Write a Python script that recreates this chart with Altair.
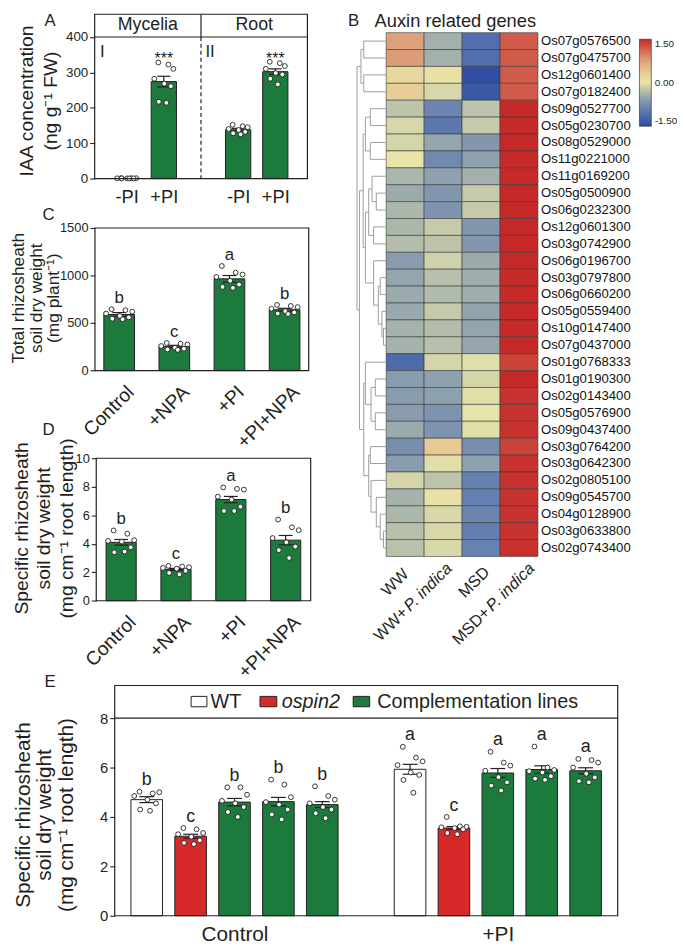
import json
import altair as alt
import pandas as pd

W, H = 677, 940


def P(v):
    return v - 8


FONT = "Arial, 'Liberation Sans', Helvetica, sans-serif"
INK = "#231f20"
GREEN = "#1b7a3c"
RED = "#d7282a"
WHITE = "#ffffff"
DENDRO = "#9d9d9d"

# ---------------- data ----------------
# Panel A : IAA concentration
A_GROUPS = ["Mycelia", "Root"]
A_TREAT = ["-PI", "+PI"]
A_MEAN = [0.8, 274, 138, 302]
A_SE = [0.3, 15, 4, 8]
A_SIG = ["", "***", "", "***"]
A_PTS = [
    [1.5, 1.2, 1.0, 0.8, 0.6, 0.5, 0.3, 0.2],
    [328, 322, 310, 282, 268, 261, 217, 214],
    [152, 148, 145, 140, 137, 132, 128, 125],
    [330, 326, 318, 310, 298, 294, 282, 266],
]

# Panels C and D
CD_TREAT = ["Control", "+NPA", "+PI", "+PI+NPA"]
C_MEAN = [590, 252, 965, 640]
C_SE = [20, 14, 35, 15]
C_LET = ["b", "c", "a", "b"]
C_PTS = [
    [645, 635, 620, 600, 575, 560, 545, 540],
    [290, 282, 275, 258, 240, 230, 222, 218],
    [1100, 1030, 1010, 985, 945, 905, 880, 870],
    [690, 680, 668, 650, 625, 612, 600, 595],
]
D_MEAN = [4.1, 2.2, 7.1, 4.25]
D_SE = [0.2, 0.07, 0.22, 0.33]
D_LET = ["b", "c", "a", "b"]
D_PTS = [
    [4.93, 4.7, 4.25, 4.2, 4.15, 3.75, 3.4, 3.45],
    [2.45, 2.4, 2.35, 2.3, 2.25, 2.1, 1.95, 1.85],
    [7.95, 7.85, 7.8, 7.3, 7.1, 6.6, 6.3, 6.3],
    [5.7, 5.15, 4.95, 4.4, 4.1, 3.8, 3.55, 3.0],
]

# Panel E
E_TREAT = ["Control", "+PI"]
E_GENO = ["WT", "ospin2", "Complementation lines"]
E_LINES = ["WT", "ospin2", "Complementation lines", "Complementation lines", "Complementation lines"]
E_MEAN = [[4.70, 3.22, 4.60, 4.62, 4.50], [5.93, 3.55, 5.78, 5.92, 5.87]]
E_SE = [[0.12, 0.08, 0.15, 0.17, 0.12], [0.20, 0.06, 0.18, 0.15, 0.12]]
E_LET = [["b", "c", "b", "b", "b"], ["a", "c", "a", "a", "a"]]
E_PTS = [
    [
        [5.02, 4.95, 5.0, 4.85, 4.7, 4.55, 4.3, 4.25],
        [3.55, 3.5, 3.35, 3.3, 3.2, 3.05, 2.95, 2.9],
        [5.2, 5.2, 4.9, 4.65, 4.55, 4.4, 4.2, 4.0],
        [5.51, 5.31, 4.8, 4.6, 4.5, 4.3, 4.1, 3.9],
        [5.24, 4.85, 4.7, 4.55, 4.4, 4.3, 4.15, 3.95],
    ],
    [
        [6.84, 6.4, 6.25, 6.1, 5.8, 5.7, 5.5, 4.98],
        [4.0, 3.62, 3.6, 3.58, 3.55, 3.5, 3.35, 3.3],
        [6.64, 6.2, 6.08, 5.87, 5.61, 5.4, 5.27, 5.07],
        [6.85, 6.0, 5.9, 5.85, 5.8, 5.65, 5.55, 5.5],
        [6.35, 6.3, 6.2, 6.0, 5.75, 5.6, 5.45, 5.4],
    ],
]

# Panel B : heatmap (z-scores)
B_TITLE = "Auxin related genes"
B_CONDS = ["WW", "WW+P. indica", "MSD", "MSD+P. indica"]
B_GENES = [
    "Os07g0576500", "Os07g0475700", "Os12g0601400", "Os07g0182400", "Os09g0527700",
    "Os05g0230700", "Os08g0529000", "Os11g0221000", "Os11g0169200", "Os05g0500900",
    "Os06g0232300", "Os12g0601300", "Os03g0742900", "Os06g0196700", "Os03g0797800",
    "Os06g0660200", "Os05g0559400", "Os10g0147400", "Os07g0437000", "Os01g0768333",
    "Os01g0190300", "Os02g0143400", "Os05g0576900", "Os09g0437400", "Os03g0764200",
    "Os03g0642300", "Os02g0805100", "Os09g0545700", "Os04g0128900", "Os03g0633800",
    "Os02g0743400",
]
B_WW = [0.75, 0.8, 0.15, 0.3, -0.25, -0.1, -0.12, 0.0, -0.35, -0.45, -0.35, -0.35, -0.3,
        -0.6, -0.5, -0.45, -0.46, -0.38, -0.38, -1.15, -0.6, -0.6, -0.6, -0.45, -0.75,
        -0.6, -0.12, -0.38, -0.35, -0.28, -0.27]
B_WW_PI = [-0.4, -0.4, 0.05, -0.1, -0.85, -1.0, -0.5, -0.8, -0.55, -0.65, -0.7, -0.2, -0.25,
           -0.15, -0.28, -0.32, -0.2, -0.3, -0.28, -0.12, -0.55, -0.55, -0.7, -0.7, 0.35,
           -0.05, -0.25, 0.05, -0.1, -0.1, -0.1]
B_MSD = [-1.1, -1.1, -1.45, -1.35, -0.25, -0.2, -0.65, -0.55, -0.4, -0.2, -0.2, -0.65, -0.65,
         -0.45, -0.42, -0.42, -0.52, -0.5, -0.5, -0.05, -0.12, -0.05, 0.0, -0.05, -0.75,
         -0.55, -0.9, -0.9, -0.85, -0.92, -0.88]
B_MSD_PI = [1.2, 1.2, 1.2, 1.2, 1.5, 1.5, 1.5, 1.5, 1.5, 1.5, 1.5, 1.5, 1.5, 1.5, 1.5, 1.5,
            1.5, 1.5, 1.5, 1.35, 1.5, 1.45, 1.45, 1.45, 1.35, 1.45, 1.45, 1.45, 1.45, 1.45, 1.45]
HM_TICKS = [-1.5, 0.0, 1.5]
HM_STOPS = [-1.5, -0.9, -0.45, 0.0, 0.4, 0.8, 1.5]
HM_COLORS = ["#2b4ba3", "#6580b0", "#9aaaad", "#e9e4a8", "#e6c590", "#dd9c78", "#c62a28"]
# row clustering (leaf = row number, node = (left, right, merge height))
B_TREE = (
    ((1, 2, 22.7), (3, 4, 22.7), 25.5),
    (
        (((5, 6, 16), (7, 8, 16), 21),
         (((9, (10, 11, 10), 14.3), (12, 13, 12.7), 17.7),
          (14, ((15, 16, 6), (17, (18, 19, 2.7), 4.3), 8), 12.7),
          21),
         23.3),
        ((20, ((21, 22, 11), (23, 24, 11), 15.3), 21),
         ((25, 26, 16), (27, (28, (29, (30, 31, 2.7), 6), 10), 15.3), 17.7),
         22.7),
        27),
    29.5)

# style: horizontal spread pattern for the individual points
JIT = [-0.55, 0.45, 0.95, -0.95, 0.05, 0.7, -0.5, 0.25]

ONE = pd.DataFrame({"k": [0]})


# ---------------- helpers ----------------
def tables(idxs, means, ses, pts, letters, geno=None):
    bars = pd.DataFrame({
        "idx": idxs, "mean": means,
        "lo": [m - s for m, s in zip(means, ses)],
        "hi": [m + s for m, s in zip(means, ses)],
        "top": [max(p) for p in pts], "letter": letters,
    })
    if geno is not None:
        bars["geno"] = geno
    rows = []
    for i, p in zip(idxs, pts):
        for k, v in enumerate(p):
            rows.append({"idx": i, "val": v, "jit": JIT[k % len(JIT)]})
    return bars, pd.DataFrame(rows)


def bar_panel(bars, pts, xdom, xrng, ydom, yrng, xaxis, yaxis, half, cap, jw,
              fill_enc=None, letter_size=17, letter_dy=-6.5):
    xs = alt.Scale(domain=xdom, range=[P(xrng[0]), P(xrng[1])], nice=False, zero=False)
    ys = alt.Scale(domain=ydom, range=[P(yrng[0]), P(yrng[1])], nice=False)

    def X(f):
        return alt.X(f, scale=xs, axis=xaxis)

    def Y(f):
        return alt.Y(f, scale=ys, axis=yaxis)

    base = alt.Chart(bars)
    if fill_enc is None:
        rect = base.mark_rect(fill=GREEN, stroke=INK, strokeWidth=1)
        extra = {}
    else:
        rect = base.mark_rect(stroke=INK, strokeWidth=1)
        extra = {"fill": fill_enc}
    rect = rect.transform_calculate(
        xl=f"datum.idx - {half}", xr=f"datum.idx + {half}"
    ).encode(x=X("xl:Q"), x2="xr:Q", y=Y("mean:Q"), y2=alt.datum(0), **extra)
    err = base.mark_rule(color=INK, strokeWidth=1.2).encode(
        x=X("idx:Q"), y=Y("lo:Q"), y2="hi:Q")
    caps = base.transform_fold(["lo", "hi"], as_=["end", "v"]).transform_calculate(
        cl=f"datum.idx - {cap}", cr=f"datum.idx + {cap}"
    ).mark_rule(color=INK, strokeWidth=1.2).encode(x=X("cl:Q"), x2="cr:Q", y=Y("v:Q"))
    dots = alt.Chart(pts).transform_calculate(
        xj=f"datum.idx + datum.jit * {jw}"
    ).mark_circle(size=24, fill=WHITE, stroke=INK, strokeWidth=0.9, opacity=1).encode(
        x=X("xj:Q"), y=Y("val:Q"))
    lets = base.mark_text(fontSize=letter_size, dy=letter_dy, align="center",
                          baseline="alphabetic", color=INK).encode(
        x=X("idx:Q"), y=Y("top:Q"), text="letter:N")
    return alt.layer(rect, err, caps, dots, lets)


def yaxis(x, values, size):
    return alt.Axis(orient="left", offset=-P(x), values=values, title=None, tickSize=5,
                    labelFontSize=size, labelPadding=2, domain=False, grid=False, format="d",
                    labelFlush=False, labelOverlap=False)


def text(t, x, y, size, align="left", baseline="alphabetic", angle=None, style=None, lh=None):
    kw = dict(text=t, fontSize=size, align=align, baseline=baseline, color=INK)
    if angle is not None:
        kw["angle"] = angle
    if style:
        kw["fontStyle"] = style
    if lh:
        kw["lineHeight"] = lh
    return alt.Chart(ONE).mark_text(**kw).encode(x=alt.value(P(x)), y=alt.value(P(y)))


def ytitle(lines, xc, yc, size, lh):
    # first line sits at the anchor; centre the whole block on xc
    return text(lines, xc - (len(lines) - 1) * lh / 2, yc, size, align="center",
                baseline="middle", angle=270, lh=lh)


def box(x1, y1, x2, y2, fill=WHITE, fo=0.0, w=1.2):
    return alt.Chart(ONE).mark_rect(fill=fill, fillOpacity=fo, stroke=INK, strokeWidth=w).encode(
        x=alt.value(P(x1)), x2=alt.value(P(x2)), y=alt.value(P(y1)), y2=alt.value(P(y2)))


def vline(x, y1, y2, dash=None):
    kw = dict(color=INK, strokeWidth=1.2)
    if dash:
        kw["strokeDash"] = dash
    return alt.Chart(ONE).mark_rule(**kw).encode(
        x=alt.value(P(x)), y=alt.value(P(y1)), y2=alt.value(P(y2)))


def hline(x1, x2, y):
    return alt.Chart(ONE).mark_rule(color=INK, strokeWidth=1.2).encode(
        x=alt.value(P(x1)), x2=alt.value(P(x2)), y=alt.value(P(y)))


layers = []

# ---------------- Panel A ----------------
a_idx = [g * 3 + t for g in range(len(A_GROUPS)) for t in range(len(A_TREAT))]
a_bars, a_pts = tables(a_idx, A_MEAN, A_SE, A_PTS, A_SIG)
a_xaxis = alt.Axis(orient="bottom", offset=P(175) - H, values=a_idx,
                   labelExpr=json.dumps(A_TREAT) + "[datum.value % 3]",
                   title=None, ticks=False, domain=False, labelFontSize=18.5, labelPadding=9,
                   labelAngle=0, labelFlush=False, labelOverlap=False, grid=False)
layers.append(bar_panel(a_bars, a_pts, [0, 4], [128.1, 278.5], [0, 400], [175, 31.7],
                        a_xaxis, yaxis(95.7, [0, 100, 200, 300, 400], 13.5),
                        half=0.34, cap=0.173, jw=0.27, letter_size=16, letter_dy=2))
layers += [
    box(95.7, 8.7, 311, 175), hline(95.7, 311, 31.7), vline(203.3, 8.7, 31.7),
    vline(203.3, 31.7, 175, dash=[4, 3]),
    text(A_GROUPS[0], 149.5, 25, 18, align="center"),
    text(A_GROUPS[1], 257.2, 25, 18, align="center"),
    text("I", 103.5, 52, 17, align="center"),
    text("II", 212.5, 52, 17, align="center"),
    ytitle(["IAA concentration", "(ng g\u207b\u00b9 FW)"], 39.2, 96.5, 19.5, 24),
]

# ---------------- Panel C ----------------
cd_idx = list(range(len(CD_TREAT)))
c_bars, c_pts = tables(cd_idx, C_MEAN, C_SE, C_PTS, C_LET)


def cd_xaxis(y):
    return alt.Axis(orient="bottom", offset=P(y) - H, values=cd_idx,
                    labelExpr=json.dumps(CD_TREAT) + "[datum.value]",
                    title=None, ticks=False, domain=False, labelFontSize=19.5, labelPadding=12,
                    labelOffset=5, labelAngle=315, labelAlign="right", labelBaseline="top",
                    labelFlush=False, labelOverlap=False, grid=False)


layers.append(bar_panel(c_bars, c_pts, [0, 3], [120.5, 287.9], [0, 1500], [369.3, 225],
                        cd_xaxis(369.3), yaxis(96, [0, 500, 1000, 1500], 13),
                        half=0.278, cap=0.125, jw=0.25))
layers += [
    box(96, 225, 312.3, 369.3),
    ytitle(["Total rhizosheath", "soil dry weight", "(mg plant\u207b\u00b9)"], 37, 296, 17.5, 18),
]

# ---------------- Panel D ----------------
d_bars, d_pts = tables(cd_idx, D_MEAN, D_SE, D_PTS, D_LET)
layers.append(bar_panel(d_bars, d_pts, [0, 3], [122.5, 289], [0, 10], [602.2, 458],
                        cd_xaxis(602.2), yaxis(97.3, [0, 2, 4, 6, 8, 10], 13),
                        half=0.275, cap=0.126, jw=0.25))
layers += [
    box(97.3, 458, 314.3, 602.2),
    ytitle(["Specific rhizosheath", "soil dry weight", "(mg cm\u207b\u00b9 root length)"], 45, 529, 19.5, 23),
]

# ---------------- Panel E ----------------
e_idx, e_means, e_ses, e_pts, e_lets, e_geno = [], [], [], [], [], []
for t in range(len(E_TREAT)):
    for j in range(len(E_LINES)):
        e_idx.append(t * 6 + j)
        e_means.append(E_MEAN[t][j])
        e_ses.append(E_SE[t][j])
        e_pts.append(E_PTS[t][j])
        e_lets.append(E_LET[t][j])
        e_geno.append(E_LINES[j])
e_bars, e_ptab = tables(e_idx, e_means, e_ses, e_pts, e_lets, geno=e_geno)
e_xaxis = alt.Axis(orient="bottom", offset=P(921) - H, values=[2, 8],
                   labelExpr=json.dumps(E_TREAT) + "[floor(datum.value / 6)]",
                   title=None, ticks=False, domain=False, labelFontSize=21, labelPadding=8.5,
                   labelAngle=0, labelFlush=False, labelOverlap=False, grid=False)
e_fill = alt.Fill("geno:N", scale=alt.Scale(domain=E_GENO, range=[WHITE, RED, GREEN]), legend=None)
layers.append(bar_panel(e_bars, e_ptab, [0, 10], [148.4, 592.5], [0, 8], [921, 721],
                        e_xaxis, yaxis(116, [0, 2, 4, 6, 8], 15),
                        half=0.36, cap=0.169, jw=0.3, fill_enc=e_fill, letter_size=18))
layers += [
    box(116, 688, 625, 921), hline(116, 625, 721),
    box(193.3, 699, 209.3, 709.5, fill=WHITE, fo=1, w=1),
    box(263, 699, 280, 709.5, fill=RED, fo=1, w=1),
    box(357.3, 699, 374, 709.5, fill=GREEN, fo=1, w=1),
    text(E_GENO[0], 213, 710.5, 20),
    text(E_GENO[1], 285, 710.5, 20, style="italic"),
    text(E_GENO[2], 381.7, 710.5, 20),
    ytitle(["Specific rhizosheath", "soil dry weight", "(mg cm\u207b\u00b9 root length)"], 46, 819, 21, 21.5),
]

# ---------------- Panel B : heatmap ----------------
hm_rows = []
for gi, g in enumerate(B_GENES):
    for c, col in zip(B_CONDS, [B_WW, B_WW_PI, B_MSD, B_MSD_PI]):
        hm_rows.append({"gene": g, "cond": c, "value": col[gi]})
hm = pd.DataFrame(hm_rows)
HM_TOP, HM_BOT = 27.3, 557.4
xs_h = alt.Scale(domain=B_CONDS, range=[P(390.7), P(544.3)], paddingInner=0, paddingOuter=0)
ys_h = alt.Scale(domain=B_GENES, range=[P(HM_TOP), P(HM_BOT)], paddingInner=0, paddingOuter=0)
cells = alt.Chart(hm).mark_rect(stroke="#3a3a3a", strokeWidth=0.6).encode(
    x=alt.X("cond:N", scale=xs_h, axis=None),
    y=alt.Y("gene:N", scale=ys_h,
            axis=alt.Axis(orient="right", offset=P(544.3) - W, title=None, ticks=False,
                          domain=False, labelFontSize=13.3, labelPadding=2.5, labelColor="#111111")),
    color=alt.Color("value:Q",
                    scale=alt.Scale(domain=HM_STOPS, range=HM_COLORS, interpolate="rgb"),
                    legend=alt.Legend(orient="none", legendX=P(647), legendY=P(34),
                                      direction="vertical", gradientLength=88,
                                      gradientThickness=12, values=HM_TICKS, title=None,
                                      labelFontSize=10, labelOffset=3.5, labelColor=INK,
                                      labelExpr="replace(format(datum.value, '.2f'), '\u2212', '-')",
                                      gradientStrokeColor="#222222", gradientStrokeWidth=0.6,
                                      padding=0)),
)
# column labels (rotated), "P. indica" in italics; per-label anchor shifts (s, t) in px
COL_SHIFT = [(4.5, 10.4), (10.0, 4.4), (9.7, 8.2), (16.5, 4.4)]
ITAL = "P. indica"
ITAL_W = 3.835 * 16.5
col_layers = []
for c, (s, t) in zip(B_CONDS, COL_SHIFT):
    dx = (s - t) / 1.414
    dy = (s + t) / 1.414
    df = pd.DataFrame({"cond": [c]})
    parts = []
    if ITAL in c:
        parts.append((ITAL, "italic", dx))
        parts.append((c.replace(ITAL, ""), "normal", dx - ITAL_W))
    else:
        parts.append((c, "normal", dx))
    for txt, sty, ddx in parts:
        col_layers.append(alt.Chart(df).mark_text(
            text=txt, angle=315, align="right", baseline="alphabetic", fontSize=16.5,
            fontStyle=sty, dx=ddx, dy=dy, color=INK).encode(
            x=alt.X("cond:N", scale=xs_h, axis=None), y=alt.value(P(566))))
layers.append(alt.layer(cells, *col_layers))

# dendrogram
segs = []


def walk(node):
    if isinstance(node, int):
        return node - 1, 0.0
    l, r, h = node
    yl, hl = walk(l)
    yr, hr = walk(r)
    segs.append({"h1": hl, "h2": h, "r1": yl, "r2": yl})
    segs.append({"h1": hr, "h2": h, "r1": yr, "r2": yr})
    segs.append({"h1": h, "h2": h, "r1": yl, "r2": yr})
    return (yl + yr) / 2, h


walk(B_TREE)
row_h = (HM_BOT - HM_TOP) / len(B_GENES)
dend = alt.Chart(pd.DataFrame(segs)).mark_rule(color=DENDRO, strokeWidth=1).encode(
    x=alt.X("h1:Q", scale=alt.Scale(domain=[0, 30], range=[P(390.7), P(360.7)], nice=False, zero=False), axis=None),
    x2="h2:Q",
    y=alt.Y("r1:Q", scale=alt.Scale(domain=[0, len(B_GENES) - 1],
                                     range=[P(HM_TOP + row_h / 2), P(HM_BOT - row_h / 2)],
                                     nice=False, zero=False), axis=None),
    y2="r2:Q",
)
layers.append(dend)
layers.append(text(B_TITLE, 379, 22, 18.5))

# panel letters
layers += [
    text("A", 45, 21, 17), text("B", 352, 21, 17), text("C", 43, 217, 17),
    text("D", 43, 434, 17), text("E", 45, 690, 17),
]

chart = alt.layer(*layers).resolve_scale(
    x="independent", y="independent"
).properties(
    width=W, height=H, padding=0, autosize=alt.AutoSizeParams(type="none")
).configure(font=FONT).configure_view(strokeWidth=0).configure_axis(
    grid=False, labelColor=INK, tickColor=INK, domainColor=INK, tickWidth=1.1, labelFont=FONT
).configure_legend(labelFont=FONT)

chart.save("out.html", embed_options={"renderer": "svg", "actions": False})
